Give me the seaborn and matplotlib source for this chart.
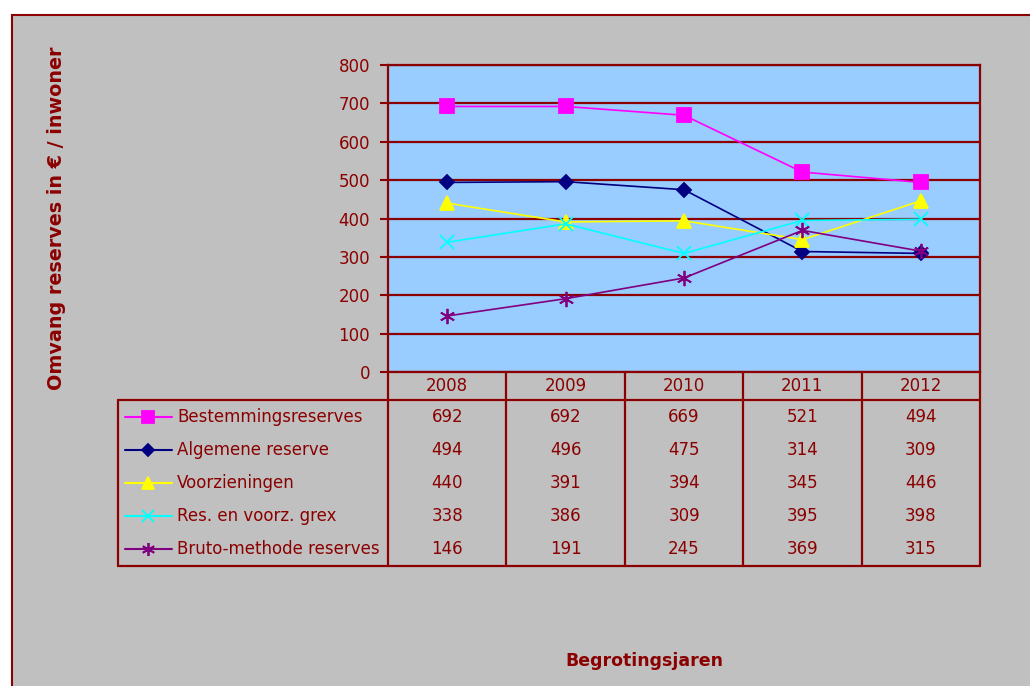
import numpy as np
import pandas as pd
import seaborn as sns
import matplotlib.pyplot as plt
from matplotlib.patches import Rectangle

# data
jaren = ["2008", "2009", "2010", "2011", "2012"]
reeksen = ["Bestemmingsreserves", "Algemene reserve", "Voorzieningen",
           "Res. en voorz. grex", "Bruto-methode reserves"]
bestemmingsreserves = [692, 692, 669, 521, 494]
algemene_reserve = [494, 496, 475, 314, 309]
voorzieningen = [440, 391, 394, 345, 446]
grex = [338, 386, 309, 395, 398]
bruto_methode = [146, 191, 245, 369, 315]
yticks = [0, 100, 200, 300, 400, 500, 600, 700, 800]

waarden = [bestemmingsreserves, algemene_reserve, voorzieningen, grex, bruto_methode]
kleuren = ["#FF00FF", "#000080", "#FFFF00", "#00FFFF", "#800080"]
markers = ["s", "D", "^", "x", (6, 2, 0)]
msizes = [10, 7.5, 10, 10, 11]

donkerrood = "#8B0000"

sns.set_style("white")
plt.rcParams['font.family'] = ['DejaVu Sans']

W, H = 1030, 686
fig = plt.figure(figsize=(10.3, 6.86), dpi=100, facecolor="white")
# achtergrond met rand
fig.patches.append(Rectangle((12 / W, -0.01), 1.1, 1 - 15 / H + 0.01,
                             transform=fig.transFigure, facecolor="#C0C0C0",
                             edgecolor=donkerrood, linewidth=1.5, zorder=-10))

ax = fig.add_axes([388 / W, 1 - 372 / H, (980 - 388) / W, (372 - 65) / H], zorder=2)
ax.set_facecolor("#99CCFF")

df = pd.DataFrame({"pos": np.arange(len(jaren))})
for naam, vals, kl, mk, ms in zip(reeksen, waarden, kleuren, markers, msizes):
    sns.lineplot(x=df["pos"], y=vals, color=kl, marker=mk, markersize=ms,
                 markeredgecolor=kl, markerfacecolor=kl, markeredgewidth=1.3,
                 linewidth=1.2, ax=ax, zorder=3)

ax.set_xlim(-0.5, len(jaren) - 0.5)
ax.set_ylim(0, 800)
ax.set_yticks(yticks)
ax.set_xticks([])
for y in yticks:
    ax.axhline(y, color=donkerrood, linewidth=1.6, zorder=2)
for s in ax.spines.values():
    s.set_color(donkerrood)
    s.set_linewidth(1.6)
ax.tick_params(axis="y", colors=donkerrood, labelsize=12, length=6, width=1.5,
               direction="out", pad=7, left=True)
ax.set_xlabel("")
ax.set_ylabel("")

# tabel in pixelcoordinaten
ov = fig.add_axes([0, 0, 1, 1], zorder=5)
ov.set_xlim(0, W)
ov.set_ylim(H, 0)
ov.axis("off")

kolommen = np.linspace(388, 980, len(jaren) + 1)
rij_top, kop_onder, tab_onder = 372, 400, 566
lw = 1.6
for x in kolommen:
    ov.plot([x, x], [rij_top, tab_onder], color=donkerrood, lw=lw)
ov.plot([118, 980], [kop_onder, kop_onder], color=donkerrood, lw=lw)
ov.plot([118, 980], [tab_onder, tab_onder], color=donkerrood, lw=lw)
ov.plot([118, 118], [kop_onder, tab_onder], color=donkerrood, lw=lw)

centra = (kolommen[:-1] + kolommen[1:]) / 2
for cx, jaar in zip(centra, jaren):
    ov.text(cx, 386, jaar, ha="center", va="center", color=donkerrood, fontsize=12)

rijhoogte = (tab_onder - kop_onder) / len(reeksen)
for i, (naam, vals, kl, mk, ms) in enumerate(zip(reeksen, waarden, kleuren, markers, msizes)):
    cy = kop_onder + rijhoogte * (i + 0.5)
    ov.plot([125, 172], [cy, cy], color=kl, lw=1.5)
    ov.plot([148], [cy], color=kl, marker=mk, markersize=ms * 0.85,
            markeredgecolor=kl, markerfacecolor=kl, markeredgewidth=1.3)
    ov.text(177, cy, naam, ha="left", va="center", color=donkerrood, fontsize=12)
    for cx, v in zip(centra, vals):
        ov.text(cx, cy, str(v), ha="center", va="center", color=donkerrood, fontsize=12)

ov.text(57, 218, "Omvang reserves in € / inwoner", rotation=90, ha="center",
        va="center", color=donkerrood, fontsize=13.8, fontweight="bold")
ov.text(644, 661, "Begrotingsjaren", ha="center", va="center",
        color=donkerrood, fontsize=12.5, fontweight="bold")

fig.savefig("out.png", dpi=100)
